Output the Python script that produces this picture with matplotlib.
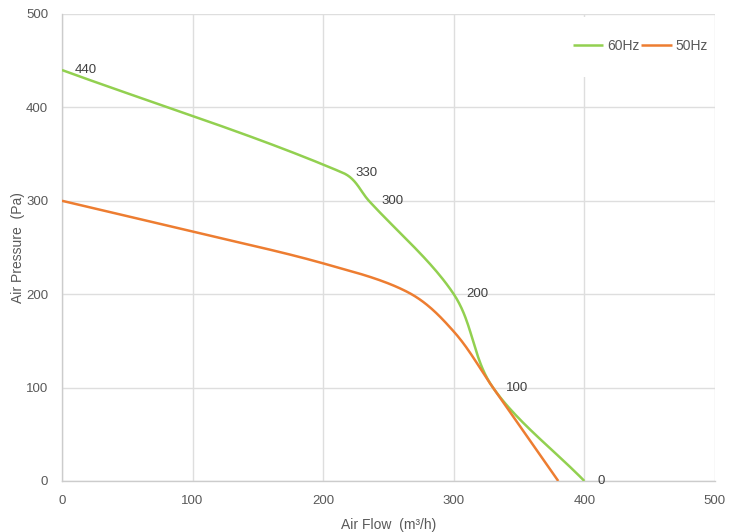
import numpy as np
import matplotlib.pyplot as plt
from matplotlib.patches import Rectangle

plt.rcParams['font.family'] = ['Liberation Sans', 'DejaVu Sans']

# Datos de las curvas
flujo_60 = [0, 215, 235, 300, 330, 400]
presion_60 = [440, 330, 300, 200, 100, 0]
flujo_50 = [0, 100, 200, 265, 300, 330, 380]
presion_50 = [300, 267, 233, 202, 160, 100, 0]

ticks = [0, 100, 200, 300, 400, 500]
verde = "#92D050"
naranja = "#ED7D31"


def suavizar(xs, ys, n=40):
    # linea suavizada con beziers; el largo de control depende del tramo
    # para que no haga lazos en puntos muy cercanos
    p = np.column_stack([xs, ys]).astype(float)
    p = np.vstack([p[0], p, p[-1]])
    puntos = []
    for i in range(1, len(p) - 2):
        p0, p1, p2, p3 = p[i - 1], p[i], p[i + 1], p[i + 2]
        largo = np.linalg.norm(p2 - p1) / 3
        d1 = p2 - p0
        d2 = p3 - p1
        c1 = p1 + d1 / np.linalg.norm(d1) * largo
        c2 = p2 - d2 / np.linalg.norm(d2) * largo
        t = np.linspace(0, 1, n)[:, None]
        seg = ((1 - t) ** 3 * p1 + 3 * (1 - t) ** 2 * t * c1
               + 3 * (1 - t) * t ** 2 * c2 + t ** 3 * p2)
        puntos.append(seg if i == 1 else seg[1:])
    puntos = np.vstack(puntos)
    return puntos[:, 0], puntos[:, 1]


fig = plt.figure(figsize=(7.37, 5.32), dpi=100)
ax = fig.add_axes([0.0841, 0.0959, 0.886, 0.8778])

x60, y60 = suavizar(flujo_60, presion_60)
x50, y50 = suavizar(flujo_50, presion_50)
ax.plot(x60, y60, color=verde, lw=1.8, label='60Hz', zorder=3, solid_capstyle='butt')
ax.plot(x50, y50, color=naranja, lw=1.8, label='50Hz', zorder=3, solid_capstyle='butt')

# Etiquetas de datos
for x, y in zip(flujo_60, presion_60):
    ax.annotate(str(y), (x, y), xytext=(13, 0), textcoords='offset pixels',
                ha='left', va='center', fontsize=9.5, color='#404040', zorder=4)

ax.set_xlim(0, 500)
ax.set_ylim(0, 500)
ax.set_xticks(ticks)
ax.set_yticks(ticks)
ax.grid(True, color='#dedede', lw=1.0)
ax.set_axisbelow(True)
for s in ['top', 'right']:
    ax.spines[s].set_visible(False)
for s in ['left', 'bottom']:
    ax.spines[s].set_color('#cccccc')
    ax.spines[s].set_linewidth(1.0)
ax.tick_params(length=0, labelsize=9.5, labelcolor='#595959')
ax.tick_params(axis='x', pad=10)
ax.tick_params(axis='y', pad=10)

ax.set_xlabel('Air Flow  (m³/h)', fontsize=10, color='#595959', labelpad=8)
ax.set_ylabel('Air Pressure  (Pa)', fontsize=10, color='#595959')
ax.yaxis.set_label_coords(-0.056, 0.5)

# Fondo blanco de la leyenda
ax.add_patch(Rectangle((0.76, 0.866), 0.225, 0.128, transform=ax.transAxes,
                       facecolor='white', edgecolor='none', zorder=1.5))
leg = ax.legend(loc='center right', bbox_to_anchor=(0.998, 0.931), ncol=2,
                frameon=False, fontsize=10, handlelength=2.2, handletextpad=0.3,
                columnspacing=0.1, borderaxespad=0)
for t in leg.get_texts():
    t.set_color('#595959')

fig.savefig('out.png', dpi=100)
